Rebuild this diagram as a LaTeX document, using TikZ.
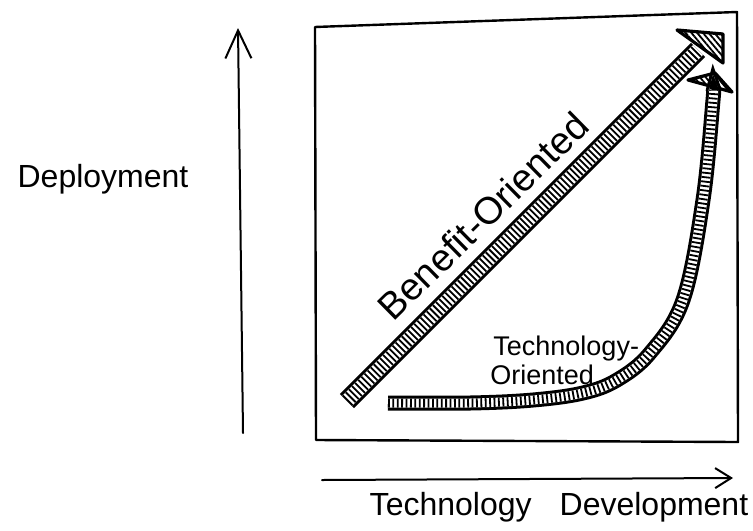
\documentclass[tikz,border=0pt]{standalone}
\usepackage{fontspec}
\setmainfont{Liberation Sans}
\usepackage{tikz}
\usetikzlibrary{positioning, arrows.meta, calc, patterns.meta}

\begin{document}
\begin{tikzpicture}[
    x=0.5pt, y=-0.5pt,
    every node/.style={inner sep=0pt},
    frame/.style={draw=black, line width=1.2pt, line join=round},
    axis/.style={draw=black, line width=1pt, line cap=round},
    band/.style={draw=black, line width=#1, line cap=butt,
        postaction={draw=white, line width=#1-3pt},
        postaction={draw=black, line width=#1-3pt, dash pattern=on 0.9pt off 1.3pt}},
    head/.style={draw=black, line width=1.6pt, line join=round,
        pattern={Lines[angle=-50, distance=2.2pt, line width=0.9pt]}},
    axislabel/.style={font=\fontsize{16}{19}\selectfont, anchor=base},
    curvelabel/.style={font=\fontsize{13.5}{16}\selectfont, anchor=base west}
]
\useasboundingbox (0,0) rectangle (753,530);

% Axes
\coordinate (y0) at (243,433);
\coordinate (y1) at (238,28);
\coordinate (x0) at (322,480);
\coordinate (x1) at (733,478);
\draw[axis, -{Straight Barb[length=14pt, width=13pt]}] (y0) -- (y1);
\draw[axis, -{Straight Barb[length=8pt, width=10pt]}] (x0) -- (x1);

\node[axislabel] (dep) at (103,187) {Deployment};
\node[axislabel] (techdev) at (559,515) {Technology\hspace{0.6em} Development};

% Frame
\draw[frame] (315,27) -- (737,12) -- (738,442) -- (316,440) -- cycle;

% Benefit-oriented arrow
\coordinate (b0) at (347,401);
\coordinate (b1) at (698,50);
\draw[band=10pt] (b0) -- (b1);
\draw[head] (677,30) -- (723,34) -- (723,63) -- cycle;
\node[rotate=44.5, font=\fontsize{19}{22}\selectfont] (benefit) at (483,216) {Benefit-Oriented};

% Technology-oriented curve
\coordinate (t0) at (388,403);
\coordinate (t1) at (713,92);
\draw[band=7.5pt] plot[smooth, tension=0.6] coordinates {
    (t0) (470,403) (533,400) (583,393) (617,380) (650,353)
    (683,300) (703,200) (713,100) (t1)};
\draw[head] (688,80) -- (715,73) -- (732,92) -- cycle;
\node[curvelabel] (techor1) at (493,355) {Technology-};
\node[curvelabel] (techor2) at (490,384) {Oriented};

\end{tikzpicture}
\end{document}
